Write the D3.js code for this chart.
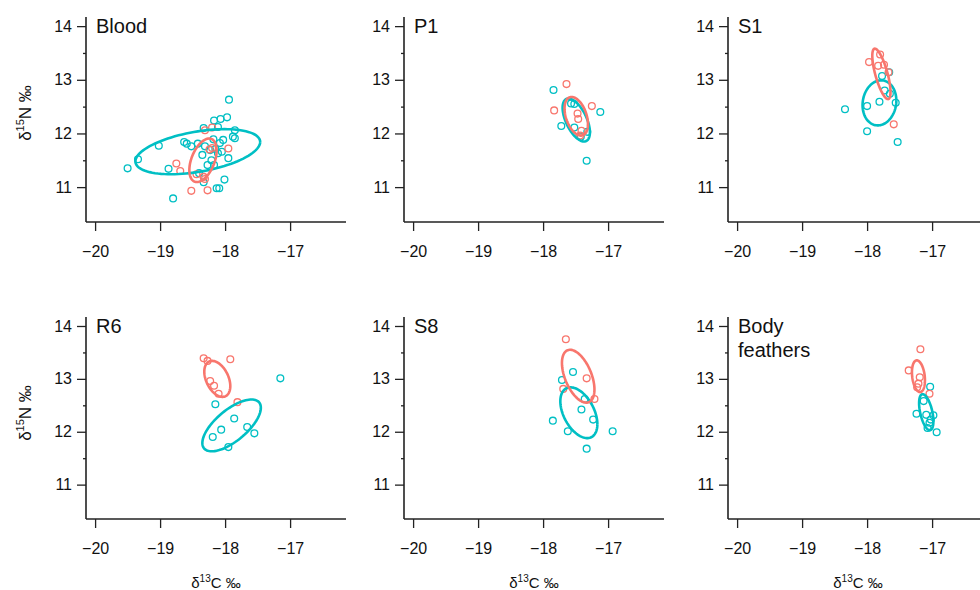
<!DOCTYPE html>
<html>
<head>
<meta charset="utf-8">
<script src="https://cdn.jsdelivr.net/npm/d3@7"></script>
<style>
  body { margin: 0; background: #fff; }
  text { font-family: "Liberation Sans", Arial, sans-serif; fill: #111; }
</style>
</head>
<body>
<div id="chart"></div>
<script>
// tick values
var xTicks = [-20, -19, -18, -17];
var yTicks = [11, 12, 13, 14];
var yMinor = [11.5, 12.5, 13.5];

// panel names
var panelNames = ["Blood", "P1", "S1", "R6", "S8", "Body feathers"];

// points [d13C, d15N], red group
var bloodRed = [[-18.20,12.11],[-18.31,12.06],[-17.95,11.72],[-18.24,11.70],[-18.75,11.44],[-18.69,11.30],
  [-18.44,11.24],[-18.33,11.19],[-18.52,10.93],[-18.27,10.94],[-18.20,11.73],[-18.31,11.15]];
var p1Red = [[-17.64,12.92],[-17.83,12.43],[-17.25,12.51],[-17.47,12.37],[-17.46,12.27],[-17.41,12.05],[-17.43,11.96]];
var s1Red = [[-17.80,13.47],[-17.97,13.33],[-17.83,13.26],[-17.74,13.28],[-17.67,13.14],[-17.59,12.17]];
var r6Red = [[-18.33,13.39],[-18.27,13.34],[-17.92,13.37],[-18.23,12.96],[-18.17,12.87],[-18.10,12.72],[-17.81,12.56]];
var s8Red = [[-17.65,13.75],[-17.33,13.01],[-17.69,12.81],[-17.21,12.62]];
var bodyRed = [[-17.18,13.56],[-17.36,13.16],[-17.19,13.03],[-17.21,12.91],[-17.23,12.84],[-17.04,12.72]];

// points [d13C, d15N], cyan group
var bloodCyan = [[-17.94,12.63],[-18.17,12.24],[-18.07,12.27],[-17.97,12.30],[-18.11,12.12],[-18.33,12.10],
  [-17.85,12.06],[-17.88,11.94],[-17.85,11.91],[-18.18,11.89],[-18.03,11.88],[-18.63,11.84],[-18.59,11.81],
  [-19.02,11.77],[-18.42,11.81],[-18.52,11.76],[-18.35,11.60],[-18.15,11.71],[-18.11,11.63],[-18.05,11.66],
  [-17.95,11.54],[-18.21,11.50],[-18.27,11.41],[-18.40,11.26],[-19.34,11.52],[-19.50,11.35],[-18.87,11.34],
  [-18.33,11.09],[-18.13,10.98],[-18.09,10.98],[-18.01,11.14],[-18.80,10.79],[-18.31,11.76],[-18.23,11.69],
  [-18.17,11.41],[-18.08,11.82]];
var p1Cyan = [[-17.84,12.81],[-17.57,12.56],[-17.52,12.55],[-17.12,12.40],[-17.72,12.14],[-17.52,12.11],
  [-17.33,11.49],[-17.32,12.03],[-17.42,11.94]];
var s1Cyan = [[-17.66,13.14],[-17.77,13.07],[-17.73,12.80],[-17.65,12.74],[-17.81,12.59],[-18.00,12.51],
  [-17.56,12.57],[-18.34,12.45],[-18.00,12.04],[-17.53,11.84]];
var r6Cyan = [[-17.15,13.01],[-18.15,12.52],[-17.86,12.25],[-17.66,12.09],[-17.55,11.97],[-18.06,12.04],[-18.19,11.90],[-17.95,11.71]];
var s8Cyan = [[-17.54,13.13],[-17.71,12.98],[-17.36,12.62],[-17.41,12.42],[-17.23,12.23],[-17.85,12.21],
  [-17.62,12.01],[-16.93,12.01],[-17.33,11.68]];
var bodyCyan = [[-17.03,12.85],[-17.13,12.58],[-17.24,12.34],[-16.98,12.31],[-17.02,12.23],[-17.07,12.07],
  [-16.93,11.99],[-17.09,12.32],[-17.04,12.17]];

// standard ellipses [cx, cy, sdx, sdy, r]
var ellRed = [[-18.34,11.50,0.21,0.405,0.45],[-17.49,12.32,0.18,0.36,-0.4],[-17.78,13.11,0.14,0.47,-0.72],
  [-18.12,13.00,0.20,0.34,-0.4],[-17.46,13.05,0.25,0.50,-0.5],[-17.21,13.05,0.10,0.30,-0.25]];
var ellCyan = [[-18.42,11.66,0.96,0.42,0.43],[-17.49,12.25,0.21,0.40,-0.57],[-17.81,12.57,0.26,0.42,0.1],
  [-17.90,12.12,0.45,0.49,0.68],[-17.45,12.36,0.285,0.48,-0.45],[-17.09,12.37,0.11,0.34,-0.5]];

var redPts = [bloodRed, p1Red, s1Red, r6Red, s8Red, bodyRed];
var cyanPts = [bloodCyan, p1Cyan, s1Cyan, r6Cyan, s8Cyan, bodyCyan];

var red = "#F8766D", cyan = "#00BFC4";

var colX = [86, 404, 728],
    rowTop = [17, 317],
    rowBottom = [222, 519],
    panelW = 260;

var svg = d3.select("#chart")
  .append("svg")
    .attr("width", 980)
    .attr("height", 590);

// ellipse outline from sd and correlation
function ellipsePts(e) {
  var pts = [];
  for (var i = 0; i <= 100; i++) {
    var t = i / 100 * 2 * Math.PI;
    pts.push([e[0] + e[2] * Math.cos(t),
              e[1] + e[3] * (e[4] * Math.cos(t) + Math.sqrt(1 - e[4] * e[4]) * Math.sin(t))]);
  }
  return pts;
}

panelNames.forEach(function(name, i) {
  var col = i % 3, row = Math.floor(i / 3);
  var left = colX[col], top = rowTop[row], h = rowBottom[row] - rowTop[row];

  var x = d3.scaleLinear().domain([-20.14, -16.14]).range([0, panelW]);
  var y = d3.scaleLinear().domain([10.35, 14.17]).range([h, 0]);

  var g = svg.append("g")
    .attr("transform", "translate(" + left + "," + top + ")");

  // x axis
  var xAxis = g.append("g")
    .attr("transform", "translate(0," + h + ")")
    .call(d3.axisBottom(x).tickValues(xTicks).tickSizeInner(9).tickSizeOuter(0).tickPadding(15)
      .tickFormat(function(d) { return "\u2212" + Math.abs(d); }));
  // y axis
  var yAxis = g.append("g")
    .call(d3.axisLeft(y).tickValues(yTicks).tickSizeInner(9).tickSizeOuter(0).tickPadding(5)
      .tickFormat(d3.format("d")));
  g.append("g")
    .call(d3.axisLeft(y).tickValues(yMinor).tickSize(3).tickFormat(""))
    .select(".domain").remove();

  g.selectAll(".domain").attr("stroke", "#222").attr("stroke-width", 1.6);
  g.selectAll(".tick line").attr("stroke", "#222").attr("stroke-width", 1.3);
  g.selectAll(".tick text").style("font-size", "16px").attr("fill", "#111");
  // full length L-shaped frame
  xAxis.select(".domain").attr("d", "M0,0H" + panelW);
  yAxis.select(".domain").attr("d", "M0,0V" + h);

  // points
  var line = d3.line()
    .x(function(d) { return x(d[0]); })
    .y(function(d) { return y(d[1]); });

  g.selectAll(".pc")
    .data(cyanPts[i])
    .enter()
    .append("circle")
      .attr("cx", function(d) { return x(d[0]); })
      .attr("cy", function(d) { return y(d[1]); })
      .attr("r", 3.4)
      .attr("fill", "none")
      .attr("stroke", cyan)
      .attr("stroke-width", 1.3);

  g.selectAll(".pr")
    .data(redPts[i])
    .enter()
    .append("circle")
      .attr("cx", function(d) { return x(d[0]); })
      .attr("cy", function(d) { return y(d[1]); })
      .attr("r", 3.4)
      .attr("fill", "none")
      .attr("stroke", red)
      .attr("stroke-width", 1.3);

  g.append("path")
    .datum(ellipsePts(ellCyan[i]))
    .attr("d", line)
    .attr("fill", "none")
    .attr("stroke", cyan)
    .attr("stroke-width", 2.6);

  g.append("path")
    .datum(ellipsePts(ellRed[i]))
    .attr("d", line)
    .attr("fill", "none")
    .attr("stroke", red)
    .attr("stroke-width", 2.6);

  // panel label
  var words = name.split(" ");
  var lab = g.append("text")
    .attr("x", 10)
    .attr("y", 16)
    .style("font-size", "20px");
  words.forEach(function(w, k) {
    lab.append("tspan").attr("x", 10).attr("dy", k === 0 ? 0 : 24).text(w);
  });

  // y title on left column
  if (col === 0) {
    var yt = svg.append("text")
      .attr("transform", "translate(31," + (top + 96) + ") rotate(-90)")
      .attr("text-anchor", "middle")
      .style("font-size", "17px");
    yt.append("tspan").text("\u03b4");
    yt.append("tspan").attr("dy", -7).style("font-size", "11px").text("15");
    yt.append("tspan").attr("dy", 7).text("N \u2030");
  }
  // x title on bottom row
  if (row === 1) {
    var xt = svg.append("text")
      .attr("x", left + panelW / 2)
      .attr("y", 588)
      .attr("text-anchor", "middle")
      .style("font-size", "15px");
    xt.append("tspan").text("\u03b4");
    xt.append("tspan").attr("dy", -6).style("font-size", "10px").text("13");
    xt.append("tspan").attr("dy", 6).text("C \u2030");
  }
});
</script>
</body>
</html>
